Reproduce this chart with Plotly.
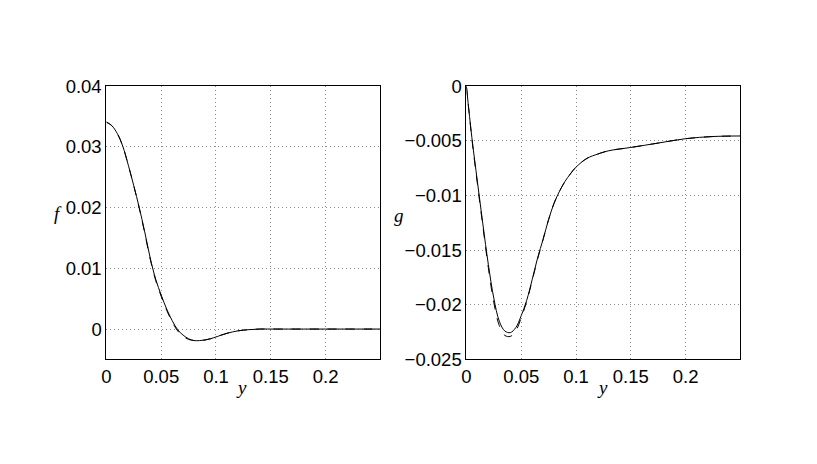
import plotly.graph_objects as go

# ---- data ----
y_pts = [0, 0.005, 0.01, 0.015, 0.02, 0.025, 0.03, 0.035, 0.04, 0.045, 0.05, 0.055,
         0.06, 0.065, 0.07, 0.075, 0.08, 0.085, 0.09, 0.095, 0.1, 0.11, 0.12, 0.13,
         0.14, 0.15, 0.2, 0.25]
f_solid = [0.0341, 0.0335, 0.0322, 0.0301, 0.0270, 0.0236, 0.0200, 0.0160, 0.0117,
           0.0082, 0.0056, 0.0033, 0.0014, -0.0001, -0.0010, -0.0016, -0.0019, -0.0019,
           -0.0018, -0.0016, -0.0013, -0.0007, -0.0003, -0.0001, 0.0, 0.0, 0.0, 0.0]
f_dash = [0.0341, 0.0335, 0.0322, 0.0301, 0.0270, 0.0236, 0.0199, 0.0158, 0.0115,
          0.0080, 0.0054, 0.0031, 0.0012, -0.0003, -0.0012, -0.0017, -0.0019, -0.0019,
          -0.0018, -0.0016, -0.0013, -0.0007, -0.0003, -0.0001, 0.0, 0.0, 0.0, 0.0]

yg_pts = [0, 0.005, 0.01, 0.015, 0.02, 0.025, 0.03, 0.035, 0.04, 0.045, 0.05, 0.055,
          0.06, 0.065, 0.07, 0.075, 0.08, 0.085, 0.09, 0.095, 0.1, 0.11, 0.12, 0.13,
          0.15, 0.175, 0.2, 0.225, 0.25]
g_solid = [0.0, -0.0047, -0.0087, -0.0126, -0.0163, -0.0194, -0.0215, -0.0224, -0.02255,
           -0.0221, -0.0210, -0.0196, -0.0177, -0.0157, -0.0140, -0.0122, -0.0107, -0.0096,
           -0.0087, -0.0080, -0.0074, -0.0066, -0.0062, -0.0059, -0.0056, -0.0052, -0.0048,
           -0.0046, -0.00455]
g_dash = [0.0, -0.0048, -0.0089, -0.0128, -0.0166, -0.0198, -0.0219, -0.0228, -0.0229,
          -0.0224, -0.0212, -0.0197, -0.0178, -0.0158, -0.0140, -0.0122, -0.0107, -0.0096,
          -0.0087, -0.0080, -0.0074, -0.0066, -0.0062, -0.0059, -0.0056, -0.0052, -0.0048,
          -0.0046, -0.00455]

x_ticks = [0, 0.05, 0.1, 0.15, 0.2]
x_ticklabels = ["0", "0.05", "0.1", "0.15", "0.2"]
f_ticks = [0, 0.01, 0.02, 0.03, 0.04]
f_ticklabels = ["0", "0.01", "0.02", "0.03", "0.04"]
g_ticks = [-0.025, -0.02, -0.015, -0.01, -0.005, 0]
g_ticklabels = ["\u22120.025", "\u22120.02", "\u22120.015", "\u22120.01", "\u22120.005", "0"]

# layout helpers: page has an 8px body margin; positions are compensated
# for the slight squeeze / offset seen in the capture
OFF = 8
VS = 0.953
HS = 0.9937
HC = 4.7
W, H = 801, 420


def px(xp):
    fx = xp / HS - HC - OFF
    return fx / W


def py(yp):
    fy = 232 + (yp - 232) / VS - OFF
    return 1 - fy / H


fig = go.Figure()

fig.add_trace(go.Scatter(x=y_pts, y=f_dash, mode="lines", line=dict(color="black", width=1, dash="dash", shape="spline"),
                         xaxis="x", yaxis="y", showlegend=False))
fig.add_trace(go.Scatter(x=y_pts, y=f_solid, mode="lines", line=dict(color="black", width=1, shape="spline"),
                         xaxis="x", yaxis="y", showlegend=False))
fig.add_trace(go.Scatter(x=yg_pts, y=g_dash, mode="lines", line=dict(color="black", width=1, dash="dash", shape="spline"),
                         xaxis="x2", yaxis="y2", showlegend=False))
fig.add_trace(go.Scatter(x=yg_pts, y=g_solid, mode="lines", line=dict(color="black", width=1, shape="spline"),
                         xaxis="x2", yaxis="y2", showlegend=False))

tickfont = dict(family="Liberation Sans, Arial, sans-serif", size=18.5, color="black")
common = dict(showline=True, linecolor="black", linewidth=1, mirror=True, ticks="",
              showgrid=True, gridcolor="#8a8a8a", griddash="1px,3px", gridwidth=1,
              zeroline=False, tickfont=tickfont)

fig.update_layout(
    width=W, height=H,
    margin=dict(l=0, r=0, t=0, b=0),
    paper_bgcolor="white", plot_bgcolor="white",
    xaxis=dict(domain=[px(106), px(380)], range=[0, 0.25], tickvals=x_ticks, ticktext=x_ticklabels,
               anchor="y", **common),
    yaxis=dict(domain=[py(360), py(86)], range=[-0.005, 0.04], tickvals=f_ticks, ticktext=f_ticklabels,
               anchor="x", **common),
    xaxis2=dict(domain=[px(466), px(740)], range=[0, 0.25], tickvals=x_ticks, ticktext=x_ticklabels,
                anchor="y2", **common),
    yaxis2=dict(domain=[py(360), py(86)], range=[-0.025, 0], tickvals=g_ticks, ticktext=g_ticklabels,
                anchor="x2", **common),
)

labfont = dict(family="Liberation Serif, Times New Roman, serif", size=19, color="black")
for txt, x, y in [("<i>y</i>", 241, 388), ("<i>y</i>", 602, 388), ("<i>f</i>", 58, 214), ("<i>g</i>", 399, 216)]:
    fig.add_annotation(text=txt, x=px(x), y=py(y), xref="paper", yref="paper",
                       showarrow=False, font=labfont, xanchor="center", yanchor="middle")

fig.write_html("out.html")
